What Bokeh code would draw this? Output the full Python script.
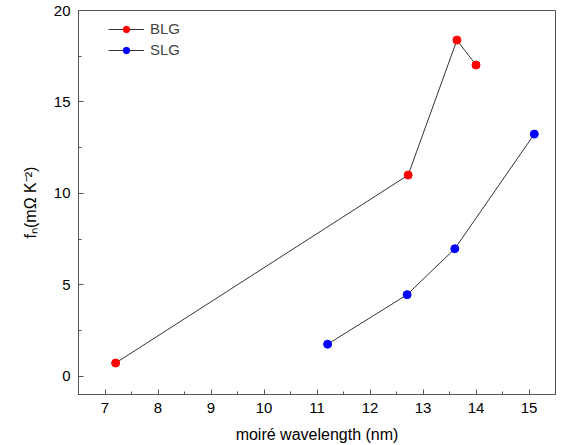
from bokeh.plotting import figure
from bokeh.models import Range1d, SingleIntervalTicker, Legend, LegendItem
from bokeh.embed import file_html
from bokeh.resources import INLINE

# Data
blg_x = [7.2, 12.72, 13.64, 14.0]
blg_y = [0.72, 11.0, 18.38, 17.02]
slg_x = [11.2, 12.7, 13.6, 15.1]
slg_y = [1.75, 4.46, 6.97, 13.24]
series_names = ["BLG", "SLG"]
x_label = "moiré wavelength (nm)"
y_label = "fₙ(mΩ K⁻²)"

FONT = "Liberation Sans"

p = figure(width=581, height=445, output_backend="svg", toolbar_location=None,
           x_range=Range1d(6.5, 15.5), y_range=Range1d(-1, 20),
           min_border_left=78, min_border_right=26, min_border_top=10, min_border_bottom=51)

p.grid.visible = False
p.background_fill_color = "white"
p.border_fill_color = "white"
p.outline_line_color = "#555555"
p.outline_line_width = 1

p.xaxis.ticker = SingleIntervalTicker(interval=1, num_minor_ticks=2)
p.yaxis.ticker = SingleIntervalTicker(interval=5, num_minor_ticks=2)

for ax in (p.xaxis[0], p.yaxis[0]):
    ax.axis_line_color = "#555555"
    ax.major_tick_line_color = "#555555"
    ax.minor_tick_line_color = "#555555"
    ax.major_tick_in = 5
    ax.major_tick_out = 0
    ax.minor_tick_in = 3
    ax.minor_tick_out = 0
    ax.major_label_text_font = FONT
    ax.major_label_text_font_size = "15px"
    ax.major_label_text_color = "black"
    ax.axis_label_text_font = FONT
    ax.axis_label_text_font_size = "16px"
    ax.axis_label_text_font_style = "normal"
    ax.axis_label_text_color = "black"

p.xaxis.major_label_standoff = 8
p.xaxis.axis_label_standoff = 10
p.yaxis.major_label_standoff = 8
p.yaxis.axis_label_standoff = 12
p.xaxis.axis_label = x_label
p.yaxis.axis_label = y_label

l1 = p.line(blg_x, blg_y, line_color="#333333", line_width=1)
s1 = p.scatter(blg_x, blg_y, size=8, fill_color="#ff0000", line_color="#ff0000")
l2 = p.line(slg_x, slg_y, line_color="#333333", line_width=1)
s2 = p.scatter(slg_x, slg_y, size=8, fill_color="#0000ff", line_color="#0000ff")

legend = Legend(items=[LegendItem(label=series_names[0], renderers=[l1, s1]),
                       LegendItem(label=series_names[1], renderers=[l2, s2])],
                location=(30, 336))
legend.padding = 0
legend.margin = 0
legend.spacing = 4
legend.glyph_width = 36
legend.glyph_height = 16
legend.label_height = 16
legend.label_standoff = 6
legend.label_text_font = FONT
legend.label_text_font_size = "15px"
legend.border_line_color = None
legend.background_fill_alpha = 0
p.add_layout(legend)

open("out.html", "w").write(file_html(p, INLINE))
